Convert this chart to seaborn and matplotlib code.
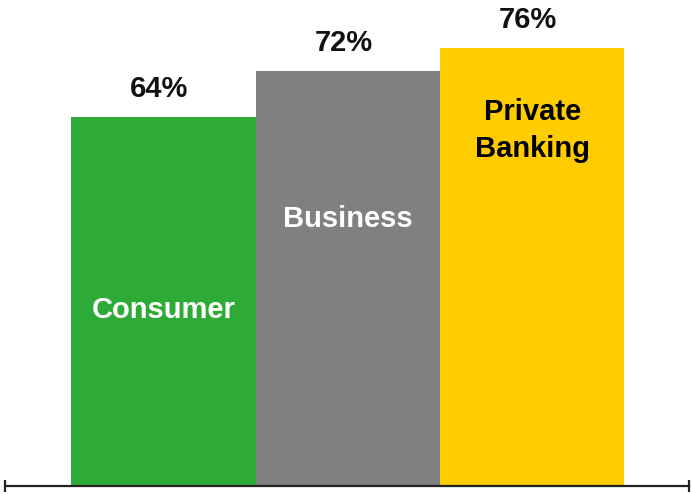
import matplotlib
matplotlib.use("Agg")
import matplotlib.pyplot as plt
import seaborn as sns
import pandas as pd

# Share of customers by segment
segments = ["Consumer", "Business", "Private Banking"]
shares = [64, 72, 76]
value_labels = ["64%", "72%", "76%"]
inner_labels = ["Consumer", "Business", "Private\nBanking"]
inner_label_y = [30.5, 46.3, 61.7]
inner_label_colors = ["white", "white", "black"]
bar_colors = ["#2dab36", "#808080", "#ffcc00"]

sns.set_theme(style="white")
plt.rcParams["font.family"] = ["Liberation Sans", "DejaVu Sans"]

df = pd.DataFrame({"segment": segments, "share": shares})

fig = plt.figure(figsize=(6.91, 4.94), dpi=100)
ax = fig.add_axes([5 / 691, 8 / 494, 684 / 691, 486 / 494])

sns.barplot(data=df, x="segment", y="share", hue="segment",
            palette=bar_colors, width=1.0, dodge=False, legend=False,
            saturation=1, ax=ax, linewidth=0)

ax.set_ylim(0, 84.3)
ax.set_xlim(-0.86, 2.85)

for i, (v, lab) in enumerate(zip(shares, value_labels)):
    ax.annotate(lab, (i, v), xytext=(-3, 14.5), textcoords="offset points",
                ha="center", va="baseline", fontsize=21, fontweight="bold",
                color="#111111")

for i, (lab, y, c) in enumerate(zip(inner_labels, inner_label_y, inner_label_colors)):
    ax.text(i, y, lab, ha="center", va="center", fontsize=21,
            fontweight="bold", color=c, linespacing=1.4)

for side in ["left", "right", "top"]:
    ax.spines[side].set_visible(False)
ax.spines["bottom"].set_color("#222222")
ax.spines["bottom"].set_linewidth(1.6)

ax.set_yticks([])
ax.set_xticks(list(ax.get_xlim()))
ax.set_xticklabels([])
ax.tick_params(axis="x", direction="inout", length=8.6, width=1.6,
               color="#222222", bottom=True)
ax.set_xlabel("")
ax.set_ylabel("")

fig.savefig("out.png", dpi=100)
